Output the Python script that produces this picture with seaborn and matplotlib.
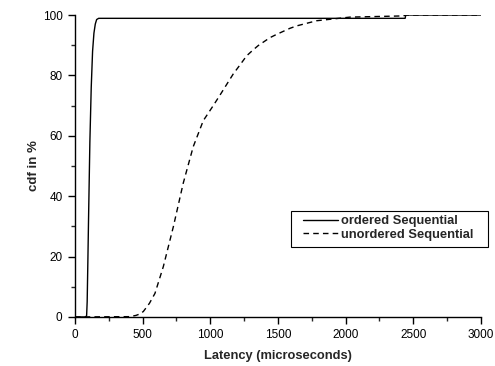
import matplotlib
matplotlib.use("Agg")
import matplotlib.pyplot as plt
from matplotlib.ticker import MultipleLocator
from matplotlib.patches import Rectangle
import seaborn as sns
import pandas as pd

# ordered Sequential (solid)
ord_x = [0, 80, 86, 90, 95, 100, 110, 120, 130, 140, 150, 160, 175, 2440, 2445, 3000]
ord_y = [0, 0, 0.5, 5, 18, 32, 58, 76, 88, 94, 97, 98.5, 98.9, 98.9, 100, 100]

# unordered Sequential (dashed)
unord_x = [0, 400, 450, 480, 505, 550, 591, 653, 727, 800, 874, 948, 1022, 1072, 1121,
           1170, 1220, 1269, 1318, 1355, 1441, 1491, 1589, 1639, 1786, 2032, 2427, 2445, 3000]
unord_y = [0, 0.1, 0.5, 1.0, 1.8, 4.5, 7.8, 16.7, 29.9, 44.3, 56.4, 65.0, 70.0, 73.5, 77.0,
           80.5, 83.5, 86.5, 88.5, 89.9, 92.5, 93.6, 95.6, 96.4, 98.1, 99.3, 99.7, 100, 100]

labels = ["ordered Sequential", "unordered Sequential"]

df = pd.concat([
    pd.DataFrame({"x": ord_x, "y": ord_y, "series": labels[0]}),
    pd.DataFrame({"x": unord_x, "y": unord_y, "series": labels[1]}),
])

sns.set_style("ticks")
plt.rcParams["font.family"] = ["Liberation Sans", "DejaVu Sans"]

fig = plt.figure(figsize=(4.95, 3.66), dpi=100)
ax = fig.add_axes([0.1515, 0.134, 0.82, 0.825])

sns.lineplot(data=df, x="x", y="y", hue="series", style="series",
             palette=["black", "black"], dashes=[(None, None), (4, 3)],
             linewidth=1.0, sort=False, ax=ax, legend=False)

ax.set_xlim(0, 3000)
ax.set_ylim(0, 100)
ax.xaxis.set_major_locator(MultipleLocator(500))
ax.xaxis.set_minor_locator(MultipleLocator(250))
ax.yaxis.set_major_locator(MultipleLocator(20))
ax.yaxis.set_minor_locator(MultipleLocator(10))
ax.tick_params(which="major", direction="out", length=5, width=1, labelsize=8.5,
               colors="black", pad=4)
ax.tick_params(which="minor", direction="out", length=3, width=1)
sns.despine(ax=ax)
for s in ["left", "bottom"]:
    ax.spines[s].set_linewidth(1.0)
    ax.spines[s].set_color("black")

ax.set_xlabel("Latency (microseconds)", fontsize=9.3, fontweight="bold", labelpad=6)
ax.set_ylabel("cdf in %", fontsize=9.5, fontweight="bold", labelpad=2)

# legend box (white, black frame) drawn separately so the padding matches
box = Rectangle((0.532, 0.232), 0.485, 0.119, transform=ax.transAxes,
                facecolor="white", edgecolor="black", lw=0.8, clip_on=False, zorder=4)
ax.add_patch(box)

handles = [plt.Line2D([], [], color="black", lw=1.0),
           plt.Line2D([], [], color="black", lw=1.0, dashes=(4, 3))]
leg = ax.legend(handles, labels, loc="upper left", bbox_to_anchor=(0.5616, 0.337),
                frameon=False, prop={"size": 9.3, "weight": "bold"},
                handlelength=2.7, handletextpad=0.25, borderpad=0,
                labelspacing=0.1, borderaxespad=0)
leg.set_zorder(5)

fig.savefig("out.png", dpi=100)
